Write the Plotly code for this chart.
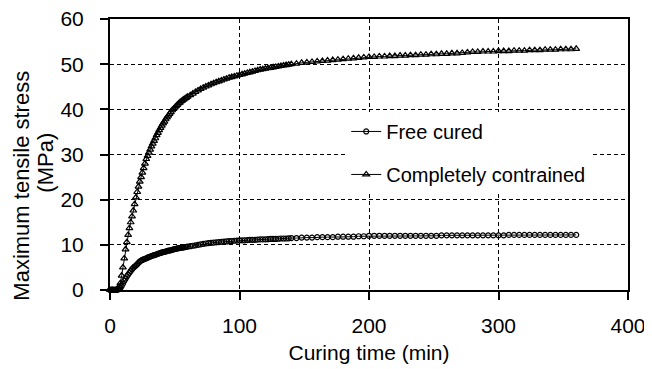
import plotly.graph_objects as go

# Sampling times (min): every 1 min to 60, every 2 min to 140, every 4 min to 360
time_min = list(range(0, 61)) + list(range(62, 141, 2)) + list(range(144, 361, 4))

free_cured = [
    # 0-60 (1 min)
    0.0, 0.0, 0.0, 0.0, 0.0, 0.0, 0.1, 0.2, 0.4, 0.9,
    1.4, 2.0, 2.5, 3.0, 3.4, 3.8, 4.2, 4.6, 4.9, 5.2,
    5.4, 5.7, 6.0, 6.3, 6.5, 6.65, 6.8, 6.9, 7.0, 7.15,
    7.3, 7.4, 7.5, 7.6, 7.7, 7.8, 7.9, 8.0, 8.1, 8.2,
    8.3, 8.4, 8.45, 8.5, 8.6, 8.7, 8.75, 8.8, 8.9, 9.0,
    9.05, 9.1, 9.2, 9.25, 9.3, 9.35, 9.4, 9.45, 9.5, 9.55,
    9.6,
    # 62-140 (2 min)
    9.7, 9.8, 9.9, 10.0, 10.1, 10.2, 10.3, 10.4, 10.45, 10.5,
    10.55, 10.6, 10.65, 10.7, 10.75, 10.8, 10.85, 10.9, 10.95, 11.0,
    11.0, 11.0, 11.05, 11.1, 11.1, 11.1, 11.15, 11.2, 11.2, 11.2,
    11.25, 11.3, 11.3, 11.3, 11.35, 11.4, 11.4, 11.4, 11.45, 11.5,
    # 144-360 (4 min)
    11.5, 11.6, 11.6, 11.6, 11.7, 11.7, 11.7, 11.7, 11.8, 11.8,
    11.8, 11.8, 11.9, 11.9,
    12.0, 12.0, 12.0, 12.0, 12.0, 12.0, 12.0, 12.0, 12.0, 12.0,
    12.0, 12.0, 12.0, 12.0, 12.1, 12.1, 12.1, 12.1, 12.1, 12.1,
    12.1, 12.1, 12.1, 12.1, 12.1, 12.1, 12.1, 12.2, 12.2, 12.2,
    12.2, 12.2, 12.2, 12.2, 12.2, 12.2, 12.2, 12.2, 12.2, 12.2,
    12.2,
]

constrained = [
    # 0-60 (1 min)
    0.0, 0.0, 0.0, 0.0, 0.0, 0.0, 0.3, 0.8, 1.5, 3.2,
    5.0, 7.0, 9.0, 10.6, 12.2, 13.7, 15.0, 16.3, 17.6, 19.0,
    20.5, 21.7, 22.9, 24.0, 25.0, 26.0, 27.0, 28.0, 29.0, 29.7,
    30.4, 31.1, 31.8, 32.4, 33.0, 33.6, 34.3, 34.8, 35.4, 35.9,
    36.4, 36.9, 37.3, 37.8, 38.2, 38.6, 39.0, 39.4, 39.8, 40.1,
    40.4, 40.7, 41.0, 41.3, 41.5, 41.8, 42.0, 42.2, 42.4, 42.6,
    42.8,
    # 62-140 (2 min)
    43.15, 43.5, 43.85, 44.2, 44.5, 44.8, 45.05, 45.3, 45.55, 45.8,
    46.0, 46.2, 46.4, 46.6, 46.8, 47.0, 47.15, 47.3, 47.45, 47.6,
    47.75, 47.9, 48.05, 48.2, 48.35, 48.5, 48.65, 48.8, 48.9, 49.0,
    49.1, 49.2, 49.3, 49.4, 49.5, 49.6, 49.7, 49.8, 49.9, 50.0,
    # 144-360 (4 min)
    50.1, 50.3, 50.4, 50.5, 50.6, 50.7, 50.8, 50.9, 51.0, 51.1,
    51.2, 51.3, 51.4, 51.5,
    51.6, 51.6, 51.7, 51.7, 51.8, 51.8, 51.9, 51.9, 52.0, 52.0,
    52.1, 52.1, 52.2, 52.2, 52.3, 52.3, 52.4, 52.4, 52.5, 52.6,
    52.7, 52.7, 52.8, 52.8, 52.8, 52.9, 52.9, 52.9, 53.0, 53.0,
    53.0, 53.1, 53.1, 53.1, 53.2, 53.2, 53.2, 53.3, 53.3, 53.3,
    53.4,
]

x_ticks = [0, 100, 200, 300, 400]
y_ticks = [0, 10, 20, 30, 40, 50, 60]

FONT = "Liberation Sans, Arial, sans-serif"

n = min(len(time_min), len(free_cured), len(constrained))

fig = go.Figure()
fig.add_trace(go.Scatter(
    x=time_min[:n], y=free_cured[:n], mode="lines+markers", name="Free cured",
    legendgroup="a",
    line=dict(color="black", width=1),
    marker=dict(symbol="circle-open", size=5, color="black", line=dict(width=1.2)),
    cliponaxis=False,
))
fig.add_trace(go.Scatter(
    x=time_min[:n], y=constrained[:n], mode="lines+markers", name="Completely contrained",
    legendgroup="b",
    line=dict(color="black", width=1),
    marker=dict(symbol="triangle-up-open", size=6, color="black", line=dict(width=1.2)),
    cliponaxis=False,
))

axis_common = dict(
    showline=True, linecolor="black", linewidth=2, mirror=True,
    showgrid=True, gridcolor="black", gridwidth=1, griddash="4px,3px",
    ticks="outside", ticklen=8, tickwidth=1.5, tickcolor="black",
    zeroline=False, automargin=False, ticklabeloverflow="allow",
    tickfont=dict(family=FONT, size=21, color="black"),
)

fig.update_xaxes(
    range=[0, 400], tickvals=x_ticks, ticktext=[str(v) for v in x_ticks],
    ticklabelstandoff=8,
    title=dict(text="Curing time (min)", font=dict(family=FONT, size=21, color="black"), standoff=9),
    **axis_common,
)
fig.update_yaxes(
    range=[0, 60], tickvals=y_ticks, ticktext=[str(v) for v in y_ticks],
    ticklabelstandoff=12,
    **axis_common,
)

fig.add_annotation(
    text="Maximum tensile stress", textangle=-90, showarrow=False,
    xref="paper", yref="paper", x=0, y=0.385, xanchor="center", yanchor="middle",
    xshift=-88, font=dict(family=FONT, size=22, color="black"),
)
fig.add_annotation(
    text="(MPa)", textangle=-90, showarrow=False,
    xref="paper", yref="paper", x=0, y=0.47, xanchor="center", yanchor="middle",
    xshift=-64, font=dict(family=FONT, size=22, color="black"),
)

# The page body adds an 8px offset, so the figure is sized to fill the rest of the window.
fig.update_layout(
    width=644, height=361,
    margin=dict(l=102, r=24, t=11, b=79, autoexpand=False),
    paper_bgcolor="white", plot_bgcolor="white",
    font=dict(family=FONT, size=20, color="black"),
    showlegend=True,
    legend=dict(
        x=0.456, y=0.657, xanchor="left", yanchor="top",
        bgcolor="white", borderwidth=0,
        font=dict(family=FONT, size=20, color="black"),
        tracegroupgap=14,
    ),
)

fig.write_html("out.html")
